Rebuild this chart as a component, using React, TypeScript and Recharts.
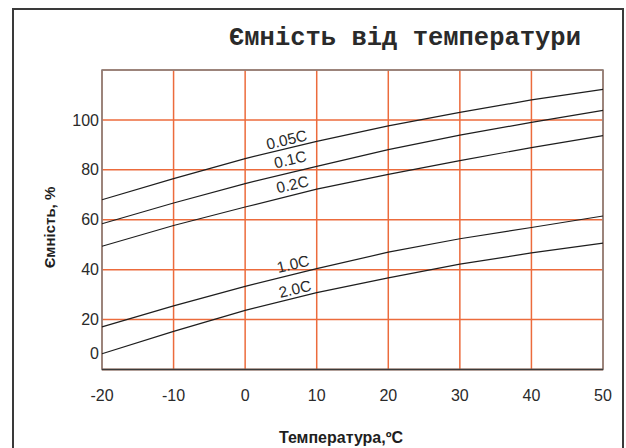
import React from 'react';
import { LineChart, Line, XAxis, YAxis, CartesianGrid, ReferenceArea, ReferenceLine, ReferenceDot } from 'recharts';

const temps = [-20, -10, 0, 10, 20, 30, 40, 50];
const c005 = [68.0, 76.5, 84.5, 91.4, 97.6, 103.0, 108.0, 112.2];
const c01 = [58.4, 66.7, 74.5, 81.4, 88.1, 93.9, 99.0, 103.8];
const c02 = [49.4, 57.7, 65.1, 72.3, 78.2, 83.7, 88.9, 93.7];
const c10 = [17.1, 25.5, 33.3, 40.4, 47.0, 52.4, 56.9, 61.5];
const c20 = [6.3, 15.3, 23.7, 30.8, 36.7, 42.2, 46.7, 50.6];

const yTicks = [0, 20, 40, 60, 80, 100];

const seriesKeys = ['c005', 'c01', 'c02', 'c10', 'c20'];
const labelNames = ['0.05C', '0.1C', '0.2C', '1.0C', '2.0C'];
const labelT = [5.8, 6.3, 6.6, 6.7, 6.95];
const labelV = [92.1, 84.2, 74.2, 42.3, 32.3];

const title = 'Ємність від температури';
const yTitle = 'Ємність, %';
const xTitle = 'Температура,ºC';

const data = temps.map((t, i) => ({
  t,
  c005: c005[i],
  c01: c01[i],
  c02: c02[i],
  c10: c10[i],
  c20: c20[i],
}));

const YTick = (props: any) => {
  const { x, y, payload } = props;
  const yy = payload.value === 0 ? y - 16 : y;
  return (
    <text x={x} y={yy} dy="0.35em" textAnchor="end" fontSize={16} fill="#2a2a2a" fontFamily="Liberation Sans, Arial, sans-serif">
      {payload.value}
    </text>
  );
};

const XTick = (props: any) => {
  const { x, y, payload } = props;
  return (
    <text x={x} y={y} dy="0.71em" textAnchor="middle" fontSize={16} fill="#2a2a2a" fontFamily="Liberation Sans, Arial, sans-serif">
      {payload.value}
    </text>
  );
};

const makeLabelShape = (text: string) => (props: any) => {
  const { cx, cy } = props;
  return (
    <text
      x={cx}
      y={cy}
      textAnchor="middle"
      dominantBaseline="central"
      fontSize={15.5}
      fill="#2a2a2a"
      fontFamily="Liberation Sans, Arial, sans-serif"
      transform={`rotate(-13, ${cx}, ${cy})`}
    >
      {text}
    </text>
  );
};

export default function App() {
  return (
    <div style={{ position: 'absolute', left: 0, top: 0, width: 626, height: 448, background: '#fff', overflow: 'hidden' }}>
      <LineChart
        width={626}
        height={448}
        data={data}
        margin={{ top: 70, right: 23, left: 42, bottom: 48.5 }}
      >
        <CartesianGrid stroke="#EC6B3C" strokeWidth={1.5} strokeDasharray="" />
        <XAxis
          dataKey="t"
          type="number"
          domain={[-20, 50]}
          ticks={temps}
          axisLine={false}
          tickLine={false}
          tickSize={0}
          tickMargin={20}
          height={30}
          tick={<XTick />}
          interval={0}
        />
        <YAxis
          type="number"
          domain={[0, 120]}
          ticks={yTicks}
          axisLine={false}
          tickLine={false}
          tickSize={0}
          tickMargin={3}
          width={60}
          tick={<YTick />}
          interval={0}
        />
        <ReferenceArea x1={-20} x2={50} y1={0} y2={120} fill="none" stroke="#808080" strokeWidth={1.5} ifOverflow="visible" />
        <ReferenceLine y={0} stroke="#3a3a3a" strokeWidth={1.5} ifOverflow="visible" />
        {seriesKeys.map((k) => (
          <Line key={k} dataKey={k} type="linear" stroke="#1e1e1e" strokeWidth={1.2} dot={false} isAnimationActive={false} />
        ))}
        {labelNames.map((n, i) => (
          <ReferenceDot key={n} x={labelT[i]} y={labelV[i]} r={0} shape={makeLabelShape(n)} ifOverflow="visible" />
        ))}
      </LineChart>
      <svg width={626} height={448} style={{ position: 'absolute', left: 0, top: 0, pointerEvents: 'none' }}>
        <rect x={13} y={9} width={610} height={460} fill="none" stroke="#3a3a3a" strokeWidth={2} />
        <text x={229} y={45} fontSize={25.5} fontWeight="bold" fill="#2a2a2a" fontFamily="Liberation Mono, Courier New, monospace">
          {title}
        </text>
        <text
          x={49}
          y={227.5}
          textAnchor="middle"
          dominantBaseline="central"
          fontSize={15}
          fontWeight="bold"
          fill="#1e1e1e"
          fontFamily="Liberation Sans, Arial, sans-serif"
          transform="rotate(-90, 49, 227.5)"
        >
          {yTitle}
        </text>
        <text
          x={341}
          y={437}
          textAnchor="middle"
          dominantBaseline="central"
          fontSize={16}
          fontWeight="bold"
          fill="#1e1e1e"
          fontFamily="Liberation Sans, Arial, sans-serif"
        >
          {xTitle}
        </text>
      </svg>
    </div>
  );
}
